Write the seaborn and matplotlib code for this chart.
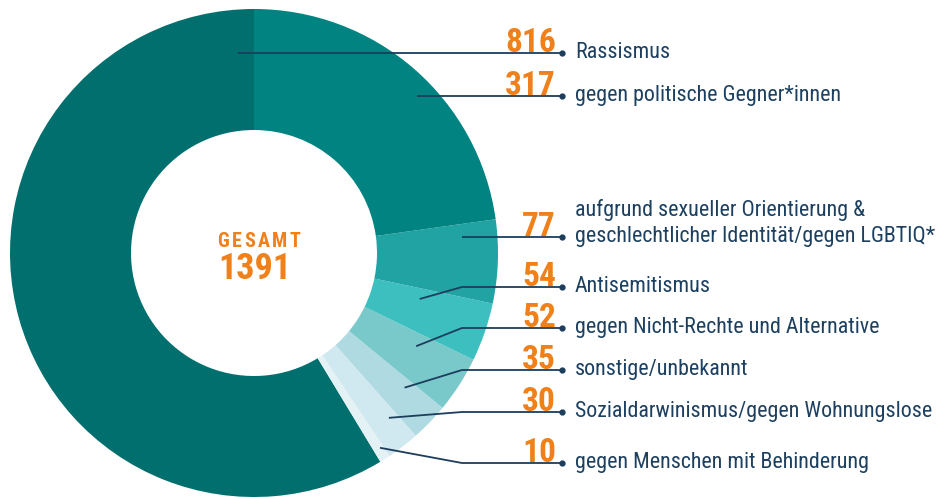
import matplotlib
matplotlib.use("Agg")
import matplotlib.pyplot as plt
import seaborn as sns
import numpy as np
from matplotlib import font_manager as fm

# ---------------- data ----------------
categories = [
    "Rassismus",
    "gegen Menschen mit Behinderung",
    "Sozialdarwinismus/gegen Wohnungslose",
    "sonstige/unbekannt",
    "gegen Nicht-Rechte und Alternative",
    "Antisemitismus",
    "aufgrund sexueller Orientierung &\ngeschlechtlicher Identität/gegen LGBTIQ*",
    "gegen politische Gegner*innen",
]
values = [816, 10, 30, 35, 52, 54, 77, 317]
total_title = "GESAMT"
total_value = 1391

# ---------------- style ----------------
colors = ["#006f6d", "#e4f2f6", "#d0e8ef", "#afdae1", "#79c9cb",
          "#3dbfc0", "#21a2a3", "#008381"]
ORANGE = "#f08019"
NAVY = "#1d4060"
LINE = "#1d3d5c"

# label layout (pixel rows, from top) for each category in the same order
label_rows = [53, 463, 412, 370, 328, 287, 237, 96]
# anchor of leader line inside the ring: angle (deg) and radius (px)
anchor_angle = [94.6, -57.1, -50.7, -41.8, -29.9, -15.5, 4.4, 43.9]
anchor_rad = [200, 232, 213, 202, 187, 172, 209, 226]

sns.set_theme(style="white")
names = {f.name for f in fm.fontManager.ttflist}
FONT = "Roboto Condensed" if "Roboto Condensed" in names else "Roboto"
plt.rcParams["font.family"] = [FONT, "DejaVu Sans"]

W, H = 940, 497
fig = plt.figure(figsize=(W / 100, H / 100), dpi=100)
ax = fig.add_axes([0, 0, 1, 1])

cx, cy, R = 254, 253, 244
ring = 121

wedges, _ = ax.pie(values, colors=colors, startangle=90, counterclock=True,
                   radius=R, center=(cx, H - cy),
                   wedgeprops=dict(width=ring, linewidth=0))

ax.set_xlim(0, W)
ax.set_ylim(0, H)
ax.set_aspect("equal")
ax.axis("off")

dot_x = 562
elbow_x = 462
num_x = 556
txt_x = 575

for cat, val, row, ang, rad in zip(categories, values, label_rows,
                                   anchor_angle, anchor_rad):
    ax_ = cx + rad * np.cos(np.radians(ang))
    ay_ = cy - rad * np.sin(np.radians(ang))
    if abs(ay_ - row) < 3:
        xs = [ax_, dot_x]
        ys = [row, row]
    else:
        xs = [ax_, elbow_x, dot_x]
        ys = [ay_, row, row]
    ax.plot(xs, [H - y for y in ys], color=LINE, lw=1.3,
            solid_capstyle="butt", zorder=3)
    ax.plot([dot_x], [H - row], "o", color=LINE, ms=3.5, zorder=4)
    ax.text(num_x, H - (row - 1), f"{val}", color=ORANGE, fontsize=24,
            fontweight="bold", ha="right", va="baseline")
    lines = cat.split("\n")
    n = len(lines)
    for i, ln in enumerate(lines):
        base = row + 5 - (n - 1 - i) * 26
        ax.text(txt_x, H - base, ln, color=NAVY, fontsize=15.8,
                ha="left", va="baseline")

# letter-spaced title in the centre
renderer = fig.canvas.get_renderer()
spacing = 2.5
title_size = 14.5
char_w = []
for ch in total_title:
    t = ax.text(0, 0, ch, fontsize=title_size, fontweight="bold")
    char_w.append(t.get_window_extent(renderer).width)
    t.remove()
total_w = sum(char_w) + spacing * (len(total_title) - 1)
x0 = 259 - total_w / 2
for ch, w in zip(total_title, char_w):
    ax.text(x0, H - 247, ch, color=ORANGE, fontsize=title_size,
            fontweight="bold", ha="left", va="baseline")
    x0 += w + spacing

ax.text(255, H - 279, f"{total_value}", color=ORANGE, fontsize=26,
        fontweight="bold", ha="center", va="baseline")

fig.savefig("out.png", dpi=100)
